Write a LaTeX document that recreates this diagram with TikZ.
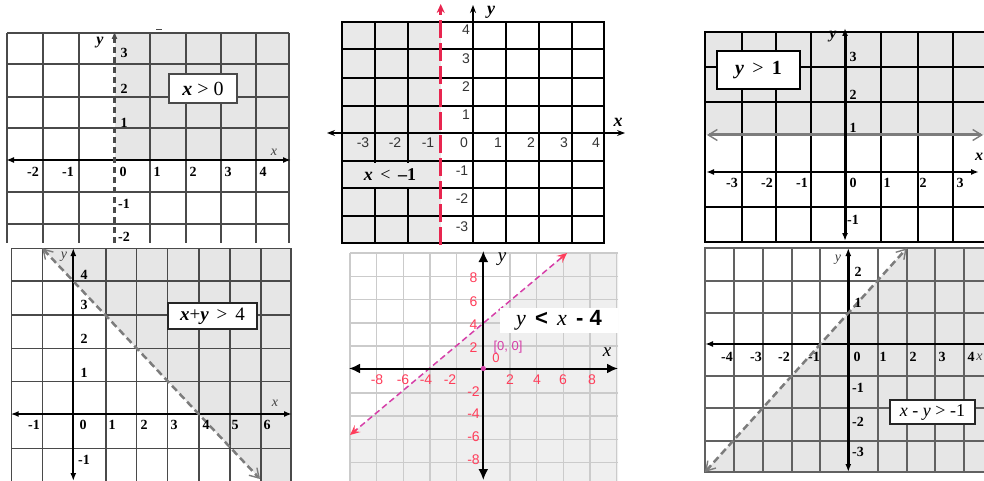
\documentclass[tikz,border=0pt]{standalone}
\usepackage{fontspec}
\setmainfont{Liberation Serif}
\newfontfamily\lsans{Liberation Sans}
\usetikzlibrary{arrows.meta}
\definecolor{shA}{HTML}{E6E6E6}
\definecolor{shB}{HTML}{E9E9E9}
\definecolor{shC}{HTML}{EFEFEF}
\definecolor{gridA}{HTML}{4A4A4A}
\definecolor{gridL}{HTML}{CBCBCB}
\definecolor{redline}{HTML}{E8254F}
\definecolor{pinknum}{HTML}{FF3D5A}
\definecolor{magline}{HTML}{D63FA8}
\definecolor{grayline}{HTML}{7C7C7C}
\begin{document}
\begin{tikzpicture}[x=1pt,y=-1pt,
  gA/.style={draw=gridA,line width=1.5pt},
  gB/.style={draw=black,line width=1.1pt},
  gL/.style={draw=gridL,line width=1.5pt},
  axis/.style={draw=black,line width=2pt},
  tipA/.style={{Latex[length=8pt,width=6pt]}-{Latex[length=8pt,width=6pt]}},
  tipThin/.style={{Stealth[length=8pt,width=6pt]}-{Stealth[length=8pt,width=6pt]}},
  tipBig/.style={{Latex[length=11pt,width=10pt]}-{Latex[length=11pt,width=10pt]}},
  barb/.style={{Straight Barb[length=9pt,width=11pt,line width=1.4pt]}-{Straight Barb[length=9pt,width=11pt,line width=1.4pt]}},
  numS/.style={inner sep=0pt,font=\fontsize{14}{14}\selectfont\bfseries},
  numT/.style={inner sep=0pt,font=\fontsize{14}{14}\selectfont\bfseries},
  numA/.style={inner sep=0pt,text=black!80,font=\lsans\fontsize{14}{14}\selectfont},
  numP/.style={inner sep=0pt,text=pinknum,font=\lsans\fontsize{14}{14}\selectfont},
  axlab/.style={inner sep=0pt,font=\fontsize{16}{16}\selectfont\bfseries\itshape},
  axlabs/.style={inner sep=0pt,text=black!75,font=\fontsize{14}{14}\selectfont\itshape},
  boxlab/.style={draw=gridA,fill=white,line width=1.5pt,inner sep=0pt,font=\fontsize{20}{20}\selectfont}
]
\useasboundingbox (0,0) rectangle (984,481);
\clip (0,0) rectangle (984,481);

% ================= Panel 1 : x > 0 =================
\fill[shA] (114.5,33) rectangle (289,160);
\foreach \x in {7,43,79,150,186,221,256,289} \draw[gA] (\x,33) -- (\x,243);
\foreach \y in {33,64,97,128,192,224} \draw[gA] (7,\y) -- (289,\y);
\draw[axis,tipA] (6,160) -- (291,160);
\draw[draw=gridA,line width=2.3pt,dash pattern=on 6pt off 4pt,-{Latex[length=8pt,width=6pt]}] (114.5,243) -- (114.5,31);
\draw[gridA,line width=1pt] (156,29.5) -- (162,29.5);
\foreach \t/\x in {-2/33,-1/68,0/123,1/157,2/193,3/228,4/263} \node[numS] (pa\x) at (\x,172) {\t};
\foreach \t/\y in {3/53,2/89,1/123,-1/204,-2/237} \node[numS] (pb\y) at (124,\y) {\t};
\node[axlab] (p1y) at (100,43) {y};
\node[axlabs] (p1x) at (274,152) {x};
\node[boxlab,minimum width=68pt,minimum height=29pt] (p1box) at (203,88.5) {\textbf{\textit{x}} > 0};

% ================= Panel 2 : x < -1 =================
\fill[shB] (342,22) rectangle (440.7,243);
\foreach \x in {375,408,506,539,572} \draw[gB] (\x,22) -- (\x,243);
\foreach \y in {49,78,106,161,188,216} \draw[gB] (342,\y) -- (604,\y);
\draw[gB] (342,22) rectangle (604,243);
\node[fill=shB,inner sep=0pt,minimum width=70pt,minimum height=23pt,font=\fontsize{18}{18}\selectfont] (p2lab) at (390,175) {\textbf{\textit{x}}\, <\, \textbf{–1}};
\draw[black,line width=1.2pt,tipThin] (327,133) -- (625,133);
\draw[black,line width=1.2pt,-{Stealth[length=8pt,width=6pt]}] (473,243) -- (473,5);
\draw[redline,line width=2.6pt,dash pattern=on 18pt off 5pt,-{Stealth[length=9pt,width=8pt]}] (440.7,245) -- (440.7,4);
\foreach \t/\x in {-3/363,-2/395,-1/428,0/464,1/498,2/531,3/564,4/596} \node[numA] (pc\x) at (\x,143) {\t};
\foreach \t/\y in {4/30,3/59,2/87,1/115} \node[numA] (pd\y) at (466,\y) {\t};
\foreach \t/\y in {-1/171,-2/199,-3/227} \node[numA] (pe\y) at (462,\y) {\t};
\node[axlab,font=\fontsize{18}{18}\selectfont\bfseries\itshape] (p2y) at (491,12) {y};
\node[axlab,font=\fontsize{18}{18}\selectfont\bfseries\itshape] (p2x) at (618,122) {x};

% ================= Panel 3 : y > 1 =================
\fill[shA] (705,32) rectangle (984,135);
\foreach \x in {742,776,811,881,918,953} \draw[gB,line width=1.5pt] (\x,32) -- (\x,242);
\foreach \y in {67,102,207} \draw[gB,line width=1.5pt] (705,\y) -- (984,\y);
\draw[gB,line width=1.5pt] (990,32) -- (705,32) -- (705,242) -- (990,242);
\draw[grayline,line width=3pt,barb] (707,135) -- (983,135);
\draw[axis,line width=2.5pt,tipA] (706,172) -- (979,172);
\draw[axis,line width=3pt,tipA] (845,28) -- (845,241);
\foreach \t/\x in {-3/732,-2/767,-1/802,0/853,1/887,2/923,3/960} \node[numS] (pf\x) at (\x,183) {\t};
\foreach \t/\y in {3/57,2/95,1/128,-1/220} \node[numS] (pg\y) at (853,\y) {\t};
\node[axlab] (p3y) at (833,37) {y};
\node[axlab] (p3x) at (979,157) {x};
\node[boxlab,draw=black,minimum width=83pt,minimum height=38pt] (p3box) at (758.5,70) {\textbf{\textit{y}}\, >\, \textbf{1}};

% ================= Panel 4 : x + y > 4 =================
\fill[shA] (42.3,248.3) -- (291,248.3) -- (291,481) -- (262,481) -- cycle;
\foreach \x in {42.3,106,136.7,167.7,199,230,261} \draw[gA] (\x,248.3) -- (\x,481);
\foreach \y in {281,315,348.3,381.7,448.3} \draw[gA] (11.7,\y) -- (291,\y);
\draw[gA] (11.7,481) -- (11.7,248.3) -- (291,248.3) -- (291,481);
\draw[axis,tipA] (10.7,414) -- (292,414);
\draw[axis,tipA] (73.3,248) -- (73.3,481);
\draw[grayline,line width=2.5pt,dash pattern=on 7pt off 4pt,barb] (42.3,248.3) -- (260,479);
\foreach \t/\x in {-1/34,0/83,1/112,2/144,3/174,4/206,5/235,6/267} \node[numT] (ph\x) at (\x,425) {\t};
\foreach \t/\y in {4/275,3/305,2/339,1/373,-1/460} \node[numT] (pi\y) at (84,\y) {\t};
\node[axlabs] (p4y) at (64,257) {y};
\node[axlabs] (p4x) at (275,403) {x};
\node[boxlab,draw=black!85,minimum width=89pt,minimum height=26pt,font=\fontsize{19}{19}\selectfont] (p4box) at (212.5,316) {\textbf{\textit{x}}+\textbf{\textit{y}}\, >\, 4};

% ================= Panel 5 : y < x - 4 =================
\fill[shC] (350,435) -- (567,253) -- (618,253) -- (618,481) -- (350,481) -- cycle;
\foreach \x in {350,376.7,403.3,430,456.7,510,536.7,563.3,590,616.7} \draw[gL] (\x,253) -- (\x,481);
\foreach \y in {253,276.3,299.6,322.9,346.2,392.8,416.1,439.4,462.7} \draw[gL] (350,\y) -- (618,\y);
\draw[magline,line width=1.5pt,dash pattern=on 6pt off 3.5pt] (353,432.5) -- (564,255.5);
\draw[pinknum,line width=1.3pt,-{Stealth[length=10pt,width=9pt,inset=4pt]}] (357,429.1) -- (350,435);
\draw[pinknum,line width=1.3pt,-{Stealth[length=10pt,width=9pt,inset=4pt]}] (560,258.9) -- (567,253);
\draw[axis,tipBig] (349,368.5) -- (618,368.5);
\draw[axis,tipBig] (483.3,251) -- (483.3,480);
\fill[magline] (483.3,368.5) circle (2.6pt);
\foreach \t/\x in {-8/377,-6/403,-4/426,-2/450,2/510,4/537,6/563,8/592} \node[numP] (pj\x) at (\x,380) {\t};
\foreach \t/\y in {8/278,6/302,4/325,2/348,-2/392,-4/414,-6/437,-8/460} \node[numP] (pk\y) at (473.5,\y) {\t};
\node[inner sep=0pt,text=magline,font=\lsans\fontsize{13}{13}\selectfont] (p5o) at (508,347) {[0, 0]};
\node[numP,font=\lsans\fontsize{13}{13}\selectfont] (p5z) at (496,358) {0};
\node[inner sep=0pt,font=\fontsize{19}{19}\selectfont\itshape] (p5y) at (502,259) {y};
\node[inner sep=0pt,font=\fontsize{19}{19}\selectfont\itshape] (p5x) at (607,352) {x};
\node[fill=white,inner sep=0pt,minimum width=118pt,minimum height=25pt,font=\fontsize{22}{22}\selectfont] (p5box) at (559,320) {\textit{y}\, {\lsans\bfseries <}\, \textit{x}\, {\lsans\bfseries - 4}};

% ================= Panel 6 : x - y > -1 =================
\fill[shA] (906.7,248.3) -- (984,248.3) -- (984,471.7) -- (705,471.7) -- cycle;
\foreach \x in {734.3,763.3,791.7,820,877.7,906.7,935,964.3} \draw[gA,line width=2pt,draw=black!62] (\x,248.3) -- (\x,471.7);
\foreach \y in {280.7,312.7,376,408.3,440.7} \draw[gA,line width=2pt,draw=black!62] (705,\y) -- (984,\y);
\draw[gA,line width=2pt,draw=black!62] (990,248.3) -- (705,248.3) -- (705,471.7) -- (990,471.7);
\draw[axis,line width=2.5pt,-{Latex[length=8pt,width=6pt]}] (984,344) -- (705,344);
\draw[axis,line width=2.5pt,tipA] (848.3,248) -- (848.3,472);
\draw[grayline,line width=2.5pt,dash pattern=on 7pt off 4pt,barb] (705,472) -- (906.7,248.3);
\foreach \t/\x in {-4/727,-3/756,-2/784,-1/814,0/857,1/883,2/913,3/942,4/971} \node[numT] (pl\x) at (\x,357) {\t};
\foreach \t/\y in {2/272,1/303,-1/388,-2/422,-3/452} \node[numT] (pm\y) at (858,\y) {\t};
\node[axlabs] (p6y) at (838,260) {y};
\node[axlabs] (p6x) at (979.5,357) {x};
\node[boxlab,draw=black!85,minimum width=85pt,minimum height=24pt,font=\fontsize{18}{18}\selectfont] (p6box) at (932.5,412) {\textit{x} - \textit{y} > -1};
\end{tikzpicture}
\end{document}
